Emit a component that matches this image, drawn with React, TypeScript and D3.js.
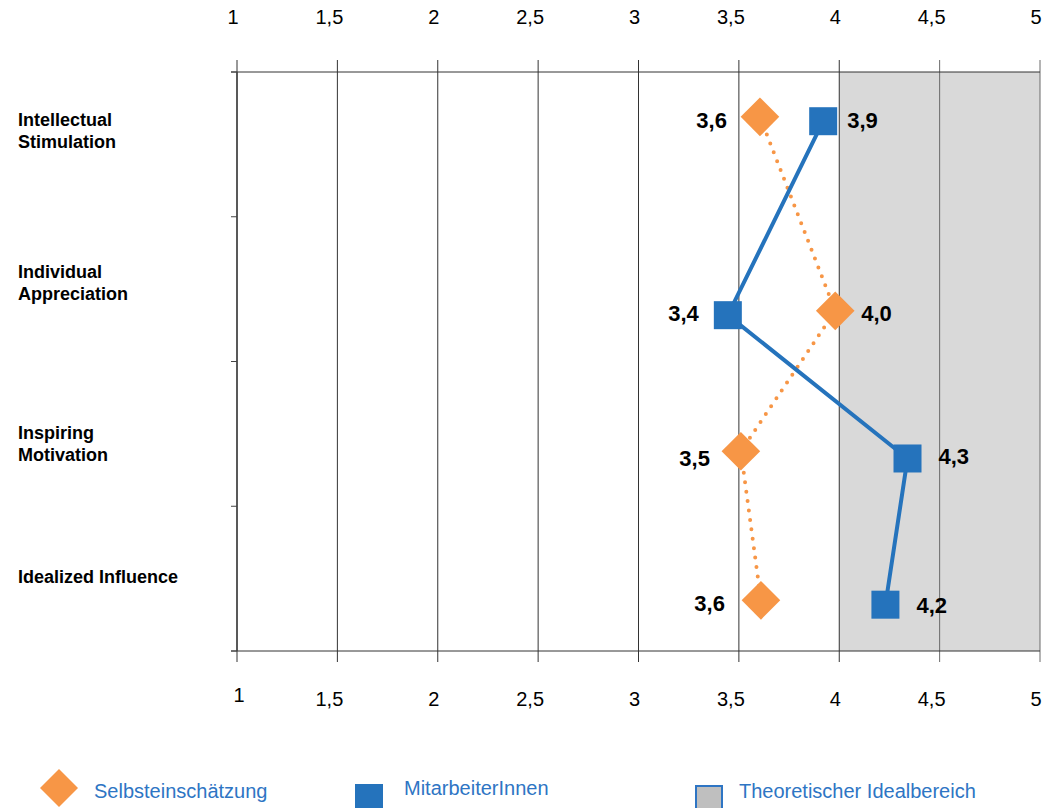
import React from "react";
import * as d3 from "d3";

const width = 1054;
const height = 808;
const left = 237;
const right = 1040;
const top = 72;
const bottom = 651;

// rows, top to bottom
const categories = [
  ["Intellectual", "Stimulation"],
  ["Individual", "Appreciation"],
  ["Inspiring", "Motivation"],
  ["Idealized Influence"],
];
const categoryLabelY = [126, 278, 439, 583];

const xTicks = [1, 1.5, 2, 2.5, 3, 3.5, 4, 4.5, 5];
const rowTicks = [0, 1, 2, 3, 4];

// Selbsteinschätzung (orange diamonds)
const selfX = [3.605, 3.98, 3.51, 3.61];
const selfY = [3.69, 2.35, 1.38, 0.35];
const selfLabelDx = [-33, 26, -31, -36];
const selfLabelDy = [11, 10, 15, 11];

// MitarbeiterInnen (blue squares)
const staffX = [3.92, 3.445, 4.34, 4.23];
const staffY = [3.66, 2.32, 1.33, 0.32];
const staffLabelDx = [24, -29, 31, 31];
const staffLabelDy = [7, 6, 6, 8];

const idealRange = [4, 5];

const orange = "#F79646";
const blue = "#2573BC";
const legendBlue = "#2E75C4";

const x = d3.scaleLinear().domain([1, 5]).range([left, right]);
const y = d3.scaleLinear().domain([0, 4]).range([bottom, top]);
const fmt = (v: number) =>
  d3.format(".1f")(Math.floor(v * 10 + 0.5 - 1e-9) / 10).replace(".", ",");
const tickFmt = (v: number) => String(v).replace(".", ",");
const tickShift = (v: number) => (Number.isInteger(v) ? -4 : -8);

const line = d3
  .line<[number, number]>()
  .x((d) => x(d[0]))
  .y((d) => y(d[1]));

const diamond = (cx: number, cy: number, r: number) =>
  `M${cx},${cy - r}L${cx + r},${cy}L${cx},${cy + r}L${cx - r},${cy}Z`;

const App = () => {
  const selfPts = selfX.map((v, i) => [v, selfY[i]] as [number, number]);
  const staffPts = staffX.map((v, i) => [v, staffY[i]] as [number, number]);
  const font = "Arial, 'Liberation Sans', sans-serif";
  return (
    <svg
      width={width}
      height={height}
      style={{ position: "absolute", left: 0, top: 0, fontFamily: font }}
    >
      <rect width={width} height={height} fill="white" />
      <rect
        x={x(idealRange[0])}
        y={top}
        width={x(idealRange[1]) - x(idealRange[0])}
        height={bottom - top}
        fill="#D9D9D9"
      />
      {xTicks.map((t) => (
        <g key={t}>
          <line
            x1={x(t)}
            x2={x(t)}
            y1={top - 12}
            y2={bottom + 11}
            stroke={t > 4 ? "#6b6b6b" : "#333"}
            strokeWidth={1}
          />
          <text x={x(t) + tickShift(t)} y={24} fontSize={20} textAnchor="middle">
            {tickFmt(t)}
          </text>
          <text
            x={x(t) + (t === 1 ? 2 : tickShift(t))}
            y={t === 1 ? 702 : 706}
            fontSize={20}
            textAnchor="middle"
          >
            {tickFmt(t)}
          </text>
        </g>
      ))}
      <line x1={left - 6} x2={right} y1={top} y2={top} stroke="#333" />
      <line x1={left - 6} x2={right} y1={bottom} y2={bottom} stroke="#333" />
      <line x1={left} x2={left} y1={top} y2={bottom} stroke="#444" strokeWidth={1.5} />
      {rowTicks.map((t) => (
        <line key={t} x1={left - 6} x2={left} y1={y(t)} y2={y(t)} stroke="#444" />
      ))}
      {categories.map((lines, i) => (
        <text key={i} x={18} y={categoryLabelY[i]} fontSize={18} fontWeight="bold">
          {lines.map((l, j) => (
            <tspan key={j} x={18} dy={j === 0 ? 0 : 22}>
              {l}
            </tspan>
          ))}
        </text>
      ))}
      <path
        d={line(selfPts) ?? ""}
        fill="none"
        stroke={orange}
        strokeWidth={4}
        strokeDasharray="0 9.5"
        strokeLinecap="round"
      />
      <path d={line(staffPts) ?? ""} fill="none" stroke={blue} strokeWidth={4} />
      {selfPts.map((p, i) => (
        <g key={i}>
          <path d={diamond(x(p[0]), y(p[1]), 19.3)} fill={orange} />
          <text
            x={x(p[0]) + selfLabelDx[i]}
            y={y(p[1]) + selfLabelDy[i]}
            fontSize={22}
            fontWeight="bold"
            textAnchor={selfLabelDx[i] < 0 ? "end" : "start"}
          >
            {fmt(p[0])}
          </text>
        </g>
      ))}
      {staffPts.map((p, i) => (
        <g key={i}>
          <rect x={x(p[0]) - 14} y={y(p[1]) - 14} width={28} height={28} fill={blue} />
          <text
            x={x(p[0]) + staffLabelDx[i]}
            y={y(p[1]) + staffLabelDy[i]}
            fontSize={22}
            fontWeight="bold"
            textAnchor={staffLabelDx[i] < 0 ? "end" : "start"}
          >
            {fmt(p[0])}
          </text>
        </g>
      ))}
      <g fontSize={20} fill={legendBlue}>
        <path d={diamond(59, 788, 19)} fill={orange} />
        <text x={94} y={798}>Selbsteinschätzung</text>
        <rect x={355} y={784} width={28} height={28} fill={blue} />
        <text x={404} y={795}>MitarbeiterInnen</text>
        <rect x={696} y={786} width={26} height={26} fill="#BFBFBF" stroke={legendBlue} strokeWidth={2} />
        <text x={739} y={798}>Theoretischer Idealbereich</text>
      </g>
    </svg>
  );
};

export default App;
